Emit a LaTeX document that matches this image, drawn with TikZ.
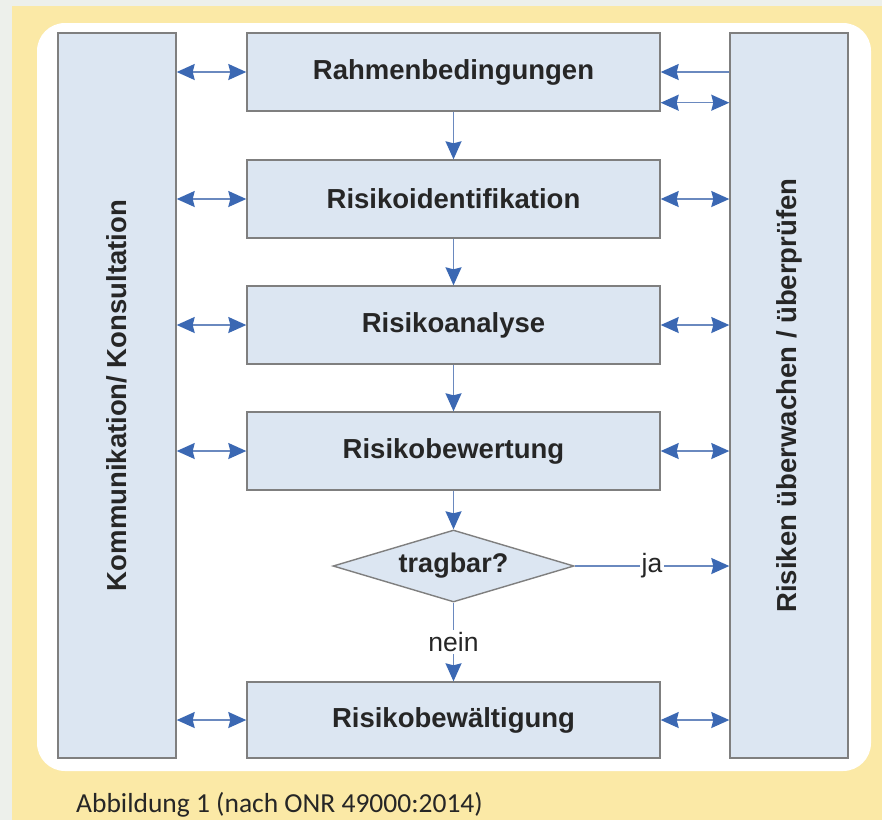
\documentclass[tikz,border=0pt]{standalone}
\usepackage{fontspec}
\setmainfont{Liberation Sans}
\newfontfamily\capfont{Carlito}
\usetikzlibrary{arrows.meta,shapes.geometric}
\definecolor{bgg}{HTML}{EDF0EB}
\definecolor{yel}{HTML}{FBE9A6}
\definecolor{boxfill}{HTML}{DCE6F2}
\definecolor{boxdraw}{HTML}{7F7F7F}
\definecolor{tipblue}{HTML}{3B68B3}
\definecolor{lineblue}{HTML}{6A89BF}
\definecolor{txt}{HTML}{262626}
\begin{document}
\begin{tikzpicture}[x=1pt,y=-1pt,
  box/.style={draw=boxdraw, fill=boxfill, line width=1.4pt, inner sep=0pt,
    font=\fontsize{27.5}{30}\selectfont\bfseries, text=txt},
  colbox/.style={box, rotate=90, minimum width=725pt, minimum height=118pt},
  stepbox/.style={box, minimum width=413pt, minimum height=78pt},
  arr/.style={draw=lineblue, line width=1.5pt, -{Stealth[length=18pt,width=16pt,inset=2pt,color=tipblue]}},
  darr/.style={draw=lineblue, line width=1.5pt, {Stealth[length=18pt,width=16pt,inset=2pt,color=tipblue]}-{Stealth[length=18pt,width=16pt,inset=2pt,color=tipblue]}},
  lbl/.style={fill=white, inner sep=2pt, font=\fontsize{26.5}{28}\selectfont, text=txt}]
\useasboundingbox (0,0) rectangle (882,820);
% background
\fill[bgg] (0,0) rectangle (882,820);
\fill[yel] (12,6) rectangle (882,820);
\fill[white] (37,23) [rounded corners=28pt] rectangle (871,771);
% side columns
\node[colbox] (lcol) at (117,395.5) {Kommunikation/ Konsultation};
\node[colbox] (rcol) at (789,395.5) {Risiken überwachen / überprüfen};
% steps
\node[stepbox] (b1) at (453.5,72) {Rahmenbedingungen};
\node[stepbox] (b2) at (453.5,199) {Risikoidentifikation};
\node[stepbox] (b3) at (453.5,325) {Risikoanalyse};
\node[stepbox] (b4) at (453.5,451) {Risikobewertung};
\node[draw=boxdraw, fill=boxfill, line width=1.4pt, diamond, aspect=3.35, inner sep=0pt,
  minimum width=241pt, minimum height=72pt, font=\fontsize{27}{30}\selectfont\bfseries, text=txt]
  (dia) at (453.5,566) {tragbar?};
\node[stepbox, minimum height=76pt] (b6) at (453.5,720) {Risikobewältigung};
% vertical flow
\draw[arr] (b1) -- (b2);
\draw[arr] (b2) -- (b3);
\draw[arr] (b3) -- (b4);
\draw[arr] (b4) -- (dia);
\draw[arr] (dia) -- node[lbl] {nein} (b6);
\draw[arr] (dia.east) -- node[lbl] {ja} (dia.east -| rcol.north);
% left double arrows
\foreach \b in {b1,b2,b3,b4,b6}
  \draw[darr] (\b.west -| lcol.south) -- (\b.west);
% right arrows
\draw[arr] (b1.east -| rcol.north) -- (b1.east);
\coordinate (b1low) at ([yshift=9pt]b1.south east);
\draw[darr] (b1low) -- (b1low -| rcol.north);
\foreach \b in {b2,b3,b4,b6}
  \draw[darr] (\b.east) -- (\b.east -| rcol.north);
% caption
\node[anchor=base west, inner sep=0pt, font=\capfont\fontsize{27.5}{30}\selectfont, text=black!85]
  (cap) at (76,812) {Abbildung 1 (nach ONR 49000:2014)};
\end{tikzpicture}
\end{document}
